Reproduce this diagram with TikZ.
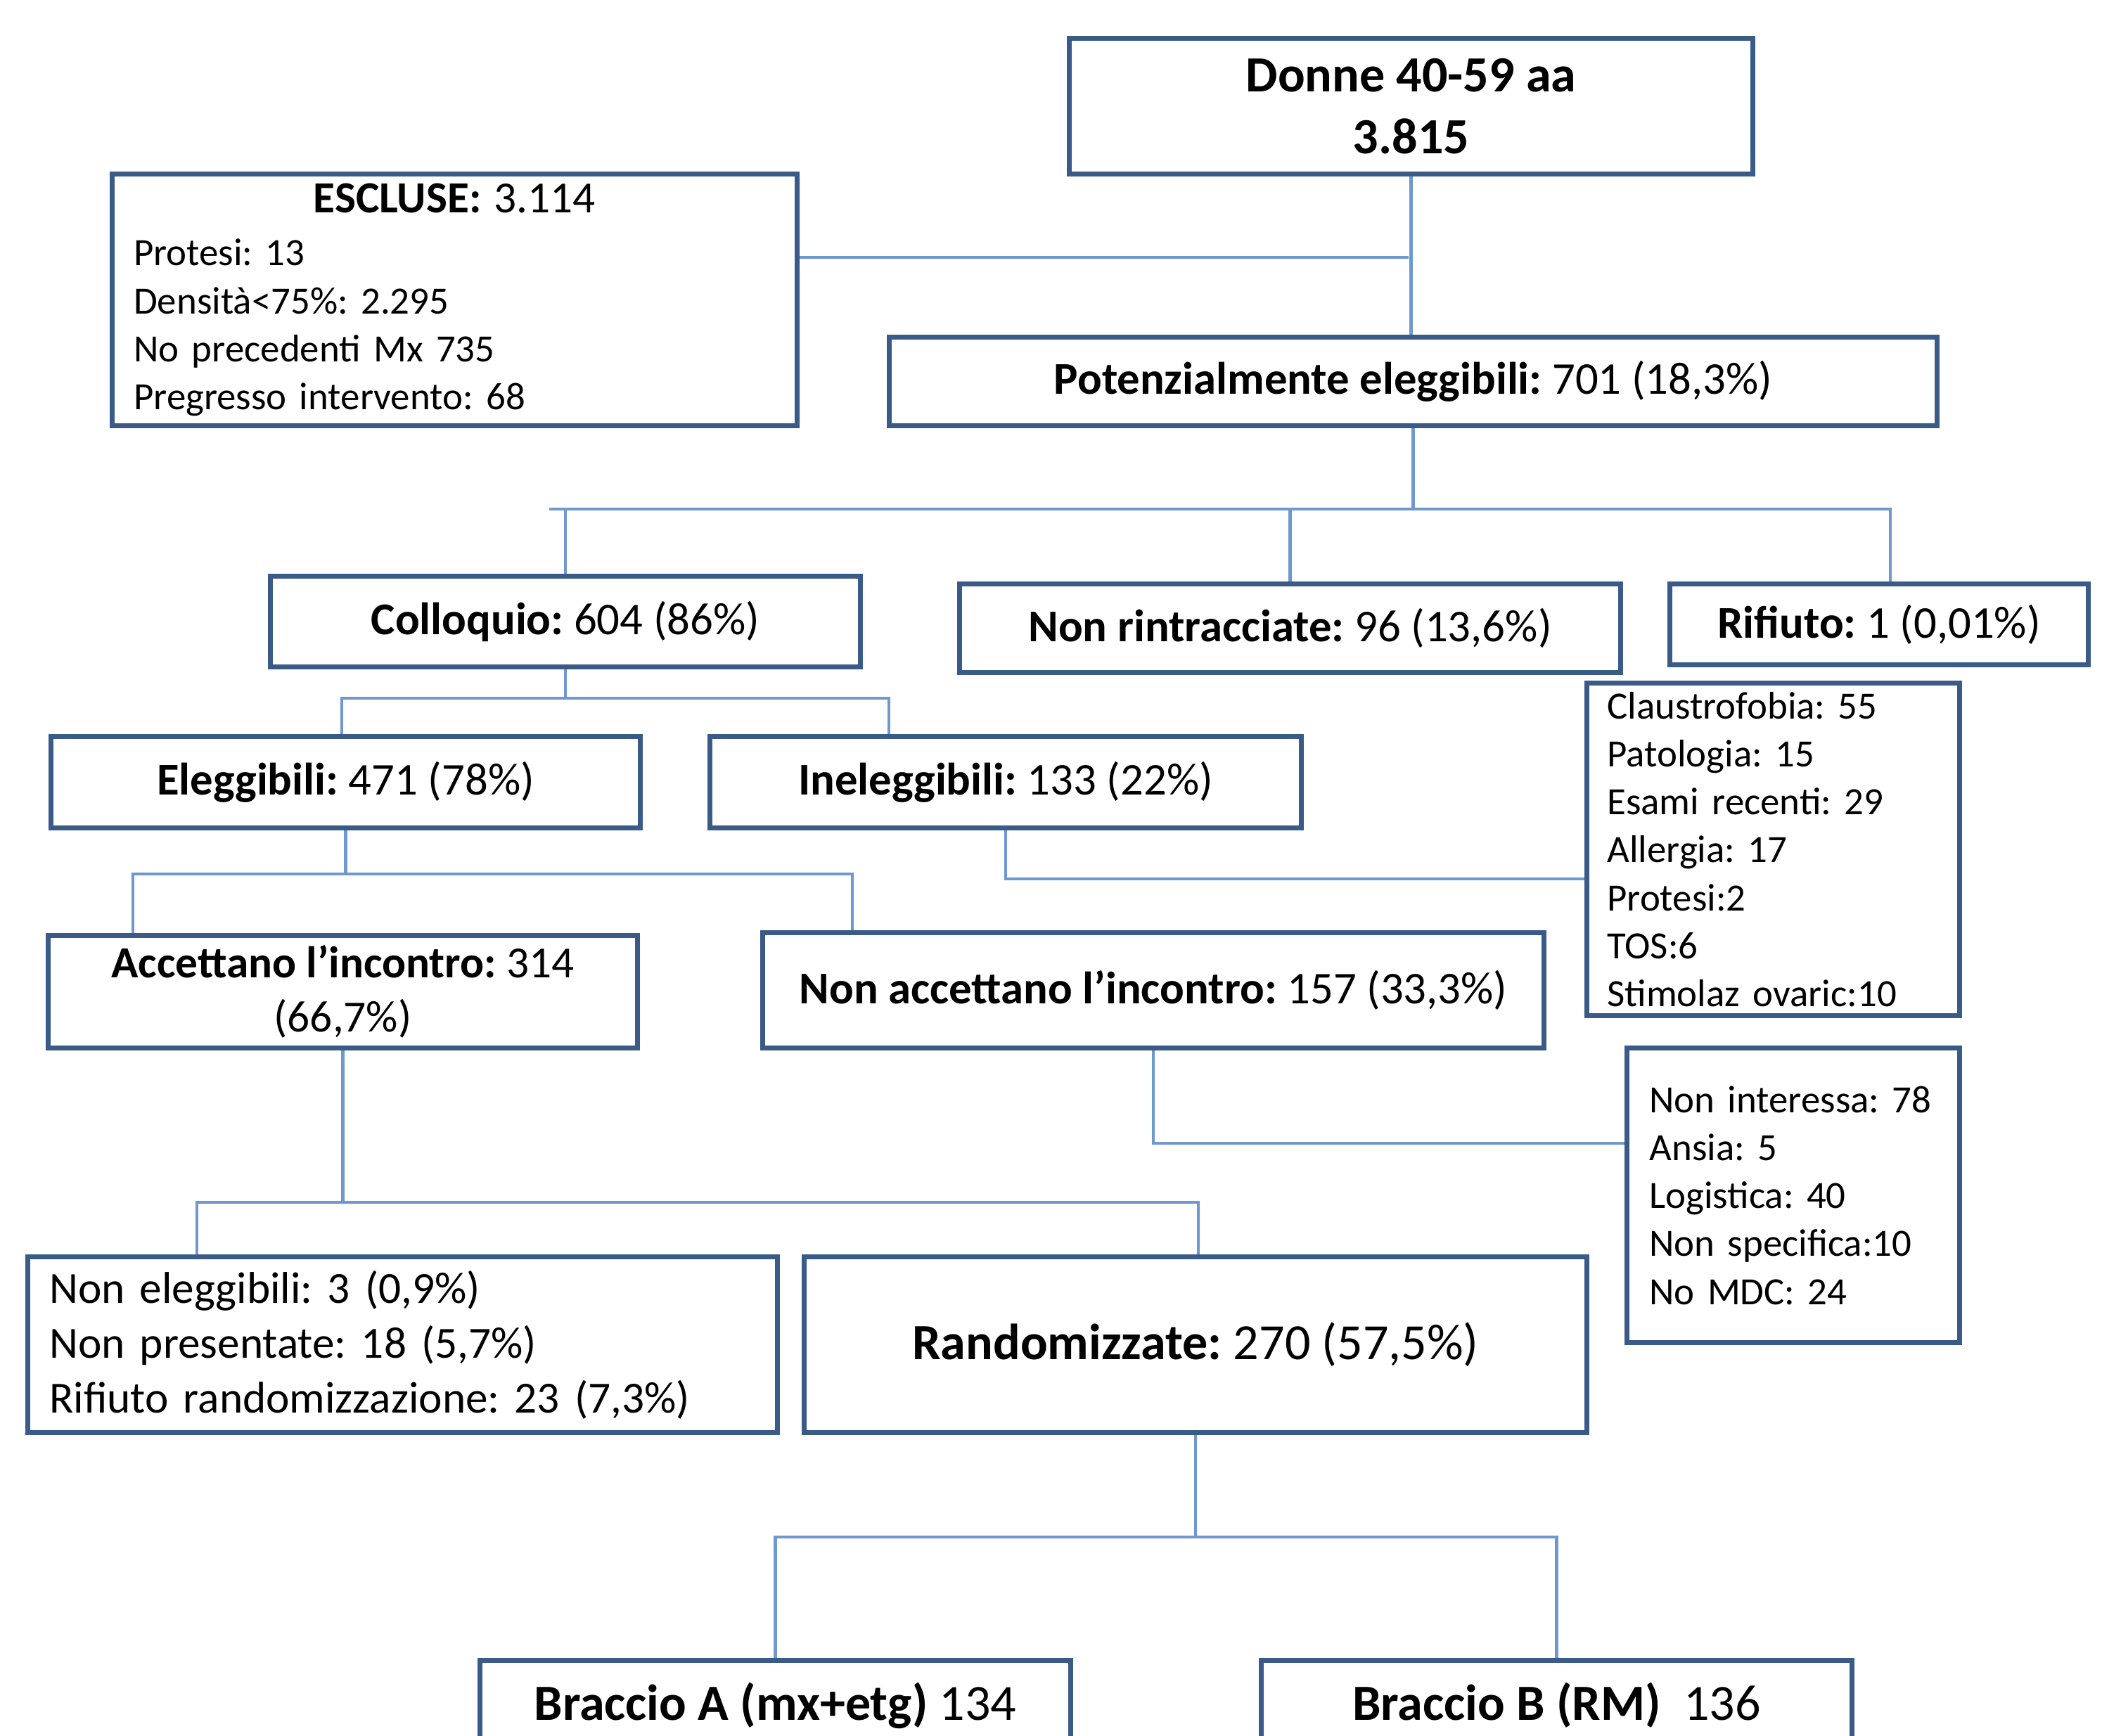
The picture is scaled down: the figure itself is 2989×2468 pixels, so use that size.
\documentclass[tikz,border=0pt]{standalone}
\usepackage{fontspec}
\setmainfont{Carlito}
\usepackage{xcolor}
\usetikzlibrary{positioning}
\definecolor{boxblue}{HTML}{3A5A88}
\definecolor{linkblue}{HTML}{6E98CF}
\frenchspacing

\begin{document}
\begin{tikzpicture}[x=0.01cm, y=-0.01cm,
        box/.style args={#1x#2}{draw=boxblue, line width=2pt, minimum width=#1*0.01cm,
            minimum height=#2*0.01cm, anchor=north west, inner sep=0pt, align=center,
            font=\fontsize{18.4}{22.2}\selectfont},
        small/.style={font=\fontsize{15.6}{19.4}\selectfont},
        big/.style={font=\fontsize{20.5}{25}\selectfont},
        link/.style={draw=linkblue, line width=1.2pt}]
        \useasboundingbox (0,0) rectangle (2989,2468);
        \clip (0,0) rectangle (2989,2468);
        % boxes
        \node[box=972x193, font=\fontsize{20.5}{25}\selectfont\bfseries] (donne) at (1517,51) {Donne 40-59 aa\\3.815};
        \node[box=974x358, small, text width=9.12cm, align=left] (escluse) at (156,244) {%
            \makebox[\linewidth]{\fontsize{18}{19.4}\selectfont\textbf{ESCLUSE:} 3.114}\\[2pt]
            Protesi: 13\\
            Densità<75\%: 2.295\\
            No precedenti Mx 735\\
            Pregresso intervento: 68};
        \node[box=1490x126] (poten) at (1261,476) {\textbf{Potenzialmente eleggibili:} 701 (18,3\%)};
        \node[box=839x129] (colloq) at (381,816) {\textbf{Colloquio:} 604 (86\%)};
        \node[box=940x126] (nonrin) at (1361,827) {\textbf{Non rintracciate:} 96 (13,6\%)};
        \node[box=595x115] (rifiuto) at (2371,827) {\textbf{Rifiuto:} 1 (0,01\%)};
        \node[box=530x473, small, text width=4.72cm, align=left] (claus) at (2253,968) {%
            Claustrofobia: 55\\
            Patologia: 15\\
            Esami recenti: 29\\
            Allergia: 17\\
            Protesi:2\\
            TOS:6\\
            Stimolaz ovaric:10};
        \node[box=838x130] (elegg) at (69,1044) {\textbf{Eleggibili:} 471 (78\%)};
        \node[box=841x130] (inelegg) at (1006,1044) {\textbf{Ineleggibili:} 133 (22\%)};
        \node[box=838x160, font=\fontsize{18}{22}\selectfont] (accett) at (65,1327) {\textbf{Accettano l’incontro:} 314\\(66,7\%)};
        \node[box=1111x164] (nonacc) at (1081,1323) {\textbf{Non accettano l’incontro:} 157 (33,3\%)};
        \node[box=473x419, small, text width=4.09cm, align=left] (nonint) at (2310,1487) {%
            Non interessa: 78\\
            Ansia: 5\\
            Logistica: 40\\
            Non specifica:10\\
            No MDC: 24};
        \node[box=1066x250, font=\fontsize{18}{22.1}\selectfont, text width=10.04cm, align=left] (noneleg) at (36,1784) {%
            Non eleggibili: 3 (0,9\%)\\
            Non presentate: 18 (5,7\%)\\
            Rifiuto randomizzazione: 23 (7,3\%)};
        \node[box=1113x250, big] (random) at (1140,1784) {\textbf{Randomizzate:} 270 (57,5\%)};
        \node[box=840x128, big] (braccA) at (679,2358) {\textbf{Braccio A (mx+etg)} 134};
        \node[box=840x128, big] (braccB) at (1790,2358) {\textbf{Braccio B (RM)}\ \ 136};
        % connectors
        \coordinate (j1) at (2003,366);
        \draw[link] (donne.south) -- (donne.south |- poten.north);
        \draw[link] (escluse.east |- j1) -- (j1);
        \coordinate (j2) at (781,724);
        \coordinate (j2r) at (2688,724);
        \draw[link] (poten.south) -- (poten.south |- j2);
        \draw[link] (j2) -- (j2r) -- (j2r |- rifiuto.north);
        \foreach \n in {colloq, nonrin}
            \draw[link] (\n.north |- j2) -- (\n.north);
        \coordinate (j3) at (486,993);
        \coordinate (j3r) at (1264,993);
        \draw[link] (colloq.south) -- (colloq.south |- j3);
        \draw[link] (j3 |- elegg.north) -- (j3) -- (j3r) -- (j3r |- inelegg.north);
        \coordinate (j4) at (1428,1250);
        \draw[link] (inelegg.south) -- (inelegg.south |- j4) -- (j4 -| claus.west);
        \coordinate (j5l) at (189,1243);
        \coordinate (j5r) at (1212,1243);
        \draw[link] (elegg.south) -- (elegg.south |- j5l);
        \draw[link] (j5l |- accett.north) -- (j5l) -- (j5r) -- (j5r |- nonacc.north);
        \coordinate (j6) at (1635,1626);
        \draw[link] (nonacc.south) -- (nonacc.south |- j6) -- (j6 -| nonint.west);
        \coordinate (j7l) at (280,1710);
        \coordinate (j7r) at (1704,1710);
        \draw[link] (accett.south) -- (accett.south |- j7l);
        \draw[link] (j7l |- noneleg.north) -- (j7l) -- (j7r) -- (j7r |- random.north);
        \coordinate (j8) at (1696,2186);
        \draw[link] (random.south) -- (random.south |- j8);
        \draw[link] (braccA.north) -- (braccA.north |- j8) -- (braccB.north |- j8) -- (braccB.north);
\end{tikzpicture}
\end{document}
